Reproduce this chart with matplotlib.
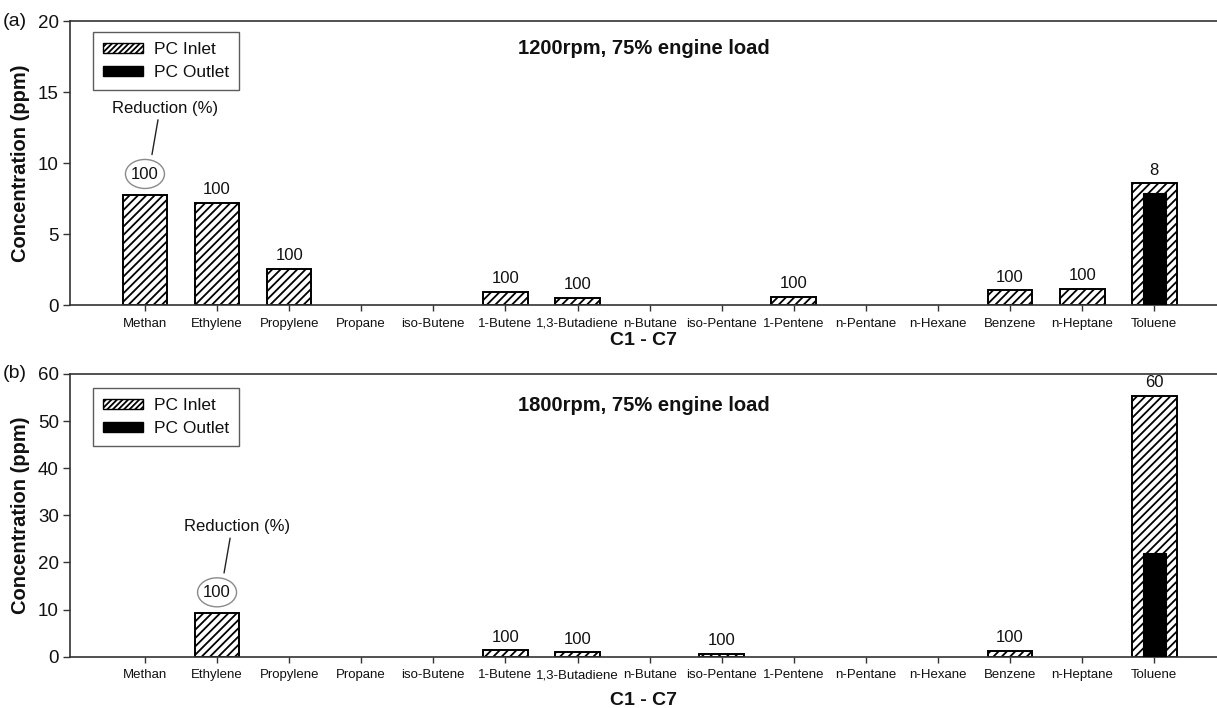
import numpy as np
import matplotlib
matplotlib.use("Agg")
import matplotlib.pyplot as plt
from matplotlib.patches import Patch, Ellipse
from matplotlib.transforms import ScaledTranslation

plt.rcParams['font.family'] = ['Liberation Sans', 'DejaVu Sans']
plt.rcParams['hatch.linewidth'] = 1.3
plt.rcParams['hatch.color'] = 'black'

categories = ['Methan', 'Ethylene', 'Propylene', 'Propane', 'iso-Butene', '1-Butene',
              '1,3-Butadiene', 'n-Butane', 'iso-Pentane', '1-Pentene', 'n-Pentane',
              'n-Hexane', 'Benzene', 'n-Heptane', 'Toluene']

# 1200 rpm, 75 % load (ppm)
inlet_1200 = [7.75, 7.2, 2.55, 0, 0, 0.95, 0.5, 0, 0, 0.58, 0, 0, 1.05, 1.15, 8.57]
outlet_1200 = [0, 0, 0, 0, 0, 0, 0, 0, 0, 0, 0, 0, 0, 0, 7.87]
reduction_1200 = [100, 100, 100, None, None, 100, 100, None, None, 100, None, None, 100, 100, 8]

# 1800 rpm, 75 % load (ppm)
inlet_1800 = [0, 9.2, 0, 0, 0, 1.4, 0.9, 0, 0.65, 0, 0, 0, 1.2, 0, 55.4]
outlet_1800 = [0, 0, 0, 0, 0, 0, 0, 0, 0, 0, 0, 0, 0, 0, 22.1]
reduction_1800 = [None, 100, None, None, None, 100, 100, None, 100, None, None, None, 100, None, 60]

panels = [
    dict(tag='(a)', title='1200rpm, 75% engine load', inlet=inlet_1200, outlet=outlet_1200,
         reduction=reduction_1200, ymax=20, yticks=[0, 5, 10, 15, 20], callout='Methan',
         rect=[0.0575, 0.5692, 0.9425, 0.4011], legend_y=0.962, title_y=0.905, xlabelpad=2),
    dict(tag='(b)', title='1800rpm, 75% engine load', inlet=inlet_1800, outlet=outlet_1800,
         reduction=reduction_1800, ymax=60, yticks=[0, 10, 20, 30, 40, 50, 60], callout='Ethylene',
         rect=[0.0575, 0.0725, 0.9425, 0.3993], legend_y=0.951, title_y=0.888, xlabelpad=8),
]

TEXT = '#111111'
SPINE = '#333333'

fig = plt.figure(figsize=(12.17, 7.08), dpi=100)

for p in panels:
    ax = fig.add_axes(p['rect'])
    x = np.arange(len(categories))
    inlet = np.array(p['inlet'], dtype=float)
    outlet = np.array(p['outlet'], dtype=float)

    mask_in = inlet > 0
    ax.bar(x[mask_in], inlet[mask_in], width=0.62, facecolor='white', edgecolor='black',
           hatch='////', linewidth=1.4, zorder=2)
    mask_out = outlet > 0
    ax.bar(x[mask_out], outlet[mask_out], width=0.32, facecolor='black', edgecolor='black',
           linewidth=0.8, zorder=3)

    for i, (h, r) in enumerate(zip(inlet, p['reduction'])):
        if r is None:
            continue
        if categories[i] == p['callout']:
            ax.annotate(str(r), xy=(i, h), xytext=(0, 15), textcoords='offset points',
                        ha='center', va='center', fontsize=12, color=TEXT, zorder=5)
            # oval ring around the highlighted value, sized in inches around its anchor
            ring_tr = fig.dpi_scale_trans + ScaledTranslation(i, h, ax.transData)
            ax.add_patch(Ellipse((0, 0.21), 0.39, 0.29, transform=ring_tr, fill=False,
                                 edgecolor='#8a8a8a', linewidth=1.0, zorder=5, clip_on=False))
            ax.annotate('Reduction (%)', xy=(i, h), xytext=(14.5, 62.5),
                        textcoords='offset points', ha='center', va='center',
                        fontsize=12, color=TEXT, zorder=5,
                        arrowprops=dict(arrowstyle='-', color='#222222', lw=1.0,
                                        relpos=(0.44, 0.0), shrinkA=1, shrinkB=29.5))
        else:
            ax.annotate(str(r), xy=(i, h), xytext=(0, 4), textcoords='offset points',
                        ha='center', va='bottom', fontsize=12, color=TEXT, zorder=5)

    ax.set_xlim(-1.04, 14.87)
    ax.set_ylim(0, p['ymax'])
    ax.set_yticks(p['yticks'])
    ax.set_xticks(x)
    ax.set_xticklabels(categories, fontsize=9.5, color=TEXT)
    ax.tick_params(axis='y', labelsize=13.5, length=5, width=1.0, color=SPINE, labelcolor=TEXT, pad=3)
    ax.tick_params(axis='x', length=4, width=1.0, color=SPINE, pad=5)
    for s in ['left', 'bottom', 'top']:
        ax.spines[s].set_color(SPINE)
        ax.spines[s].set_linewidth(1.2)
    ax.spines['right'].set_visible(False)

    ax.set_ylabel('Concentration (ppm)', fontsize=14.5, fontweight='bold', color=TEXT, labelpad=6)
    ax.set_xlabel('C1 - C7', fontsize=14, fontweight='bold', color=TEXT, labelpad=p['xlabelpad'])
    ax.text(0.5, p['title_y'], p['title'], transform=ax.transAxes, ha='center', va='center',
            fontsize=14.5, fontweight='bold', color=TEXT)

    handles = [Patch(facecolor='white', edgecolor='black', hatch='//////', linewidth=1.0, label='PC Inlet'),
               Patch(facecolor='black', edgecolor='black', label='PC Outlet')]
    leg = ax.legend(handles=handles, loc='upper left', bbox_to_anchor=(0.02, p['legend_y']),
                    borderaxespad=0, fontsize=12.5, frameon=True, fancybox=False,
                    handlelength=2.3, handleheight=0.45, handletextpad=0.6,
                    borderpad=0.6, labelspacing=0.45)
    leg.get_frame().set_edgecolor('#333333')
    leg.get_frame().set_linewidth(1.0)
    for txt in leg.get_texts():
        txt.set_color(TEXT)

    top_frac = p['rect'][1] + p['rect'][3]
    fig.text(0.002, top_frac, p['tag'], ha='left', va='center', fontsize=14, color=TEXT)

fig.savefig('out.png', dpi=100)
